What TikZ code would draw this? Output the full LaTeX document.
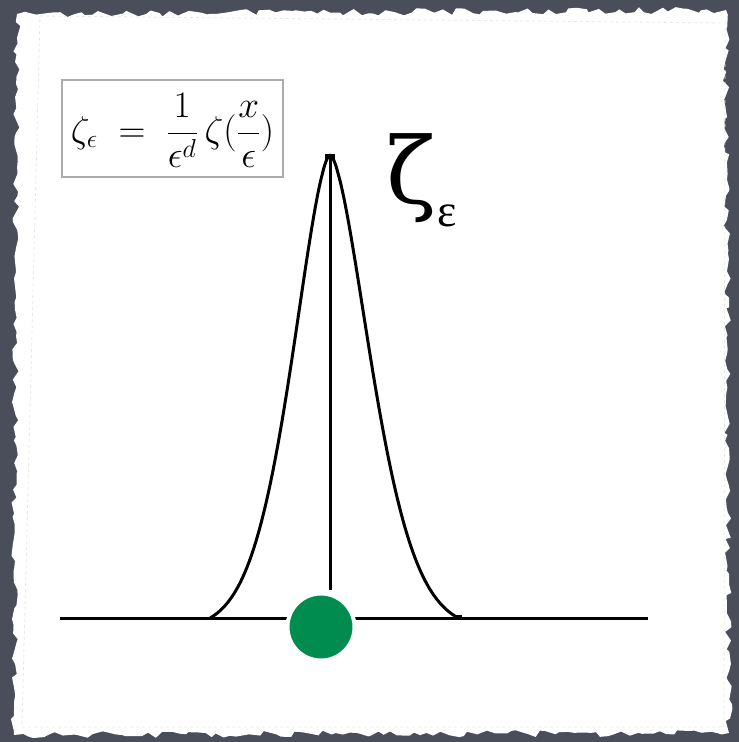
\documentclass[tikz,border=0pt]{standalone}
\usepackage{fontspec}
\newfontfamily\greekfont{DejaVu Serif}
\newfontfamily\epsfont{Liberation Serif}
\usetikzlibrary{decorations.pathmorphing}
\definecolor{bgdark}{HTML}{4A4D5A}
\definecolor{dotgreen}{HTML}{008C4E}
\tikzset{
  curveline/.style={line width=3pt, black, line join=round},
  formulabox/.style={draw=gray!65, line width=2.8pt, fill=white, minimum width=221pt, minimum height=97pt, inner sep=0pt},
  paperedge/.style={fill=white, decorate, decoration={random steps, segment length=7pt, amplitude=3.5pt}},
}
\begin{document}
\begin{tikzpicture}[x=1pt,y=-1pt]
\pgfmathsetseed{4242}
\useasboundingbox (0,0) rectangle (739,742);
\fill[bgdark] (0,0) rectangle (739,742);
\fill[paperedge] (17,14) -- (726,10) -- (729,733) -- (14,735) -- cycle;
\draw[gray!18, line width=0.8pt, dashed] (40,16) -- (725,23) -- (724,727) -- (22,727) -- cycle;
% baseline
\coordinate (bl) at (60,618);
\coordinate (br) at (648,618);
\draw[curveline] (bl) -- (br);
% curve
\coordinate (footr) at (459,618);
\draw[curveline, domain=-120:120, samples=180, smooth]
  plot ({330+\x*(\x>0?1.07:1)}, {618-463*(exp(-(abs(\x)/54)^1.65)-0.024)/0.976});
\coordinate (peak) at (330,155);
\coordinate (stem) at (330,590);
\draw[curveline] (peak) -- (stem);
\fill (peak) ++(-5,-1) rectangle ++(10,5);
\fill (footr) ++(-3,-3) rectangle ++(6,5);
% green dot
\node[circle, fill=dotgreen, draw=white, line width=4pt, minimum size=67pt, inner sep=0pt] (dot) at (321,627) {};
% formula
\node[formulabox] (box) at (172.5,128.5) {};
\node[scale=1.5] (formula) at ([yshift=-2pt]box.center) {\fontsize{24}{28}\selectfont $\displaystyle \zeta_\epsilon \;=\; \frac{1}{\epsilon^d}\,\zeta(\frac{x}{\epsilon})$};
% label
\node[inner sep=0pt] (zeta) at (411,178) {\greekfont\fontsize{92}{100}\selectfont ζ};
\node[inner sep=0pt, anchor=south west] (eps) at (437,227) {\epsfont\fontsize{46}{50}\selectfont ε};
\end{tikzpicture}
\end{document}
